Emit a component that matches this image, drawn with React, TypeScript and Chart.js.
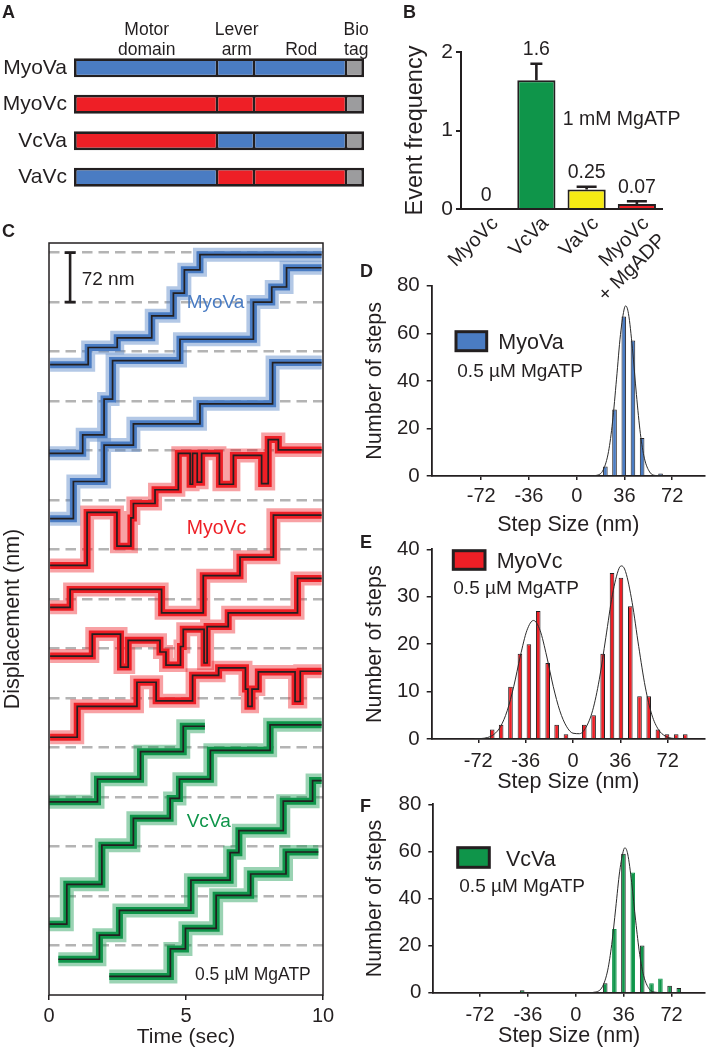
import React, { useEffect, useRef } from 'react';
import { Chart, registerables } from 'chart.js';

Chart.register(...registerables);

const FONT = '"Liberation Sans", Arial, Helvetica, sans-serif';
const INK = '#231f20';
const BLUE = '#4a7cc3';
const RED = '#ee1f26';
const GREEN = '#0f954a';
const YELLOW = '#f6eb14';
const TAG_GREY = '#9c9c9e';
const DASH_GREY = '#b4b4b4';
const BLUE_HAZE = 'rgba(74,124,195,0.42)';
const RED_HAZE = 'rgba(238,31,38,0.42)';
const GREEN_HAZE = 'rgba(15,149,74,0.42)';

Chart.defaults.font.family = FONT;
Chart.defaults.color = INK;

// ---------------- Panel A: construct diagram ----------------
const constructNames = ['MyoVa', 'MyoVc', 'VcVa', 'VaVc'];
const domainNames = [['Motor', 'domain'], ['Lever', 'arm'], ['', 'Rod'], ['Bio', 'tag']];
const domainLengths = [143, 37, 92, 18];
const motorSource = ['Va', 'Vc', 'Vc', 'Va'];
const leverSource = ['Va', 'Vc', 'Va', 'Vc'];
const rodSource = ['Va', 'Vc', 'Va', 'Vc'];

// ---------------- Panel B: event frequency ----------------
const freqCategories = [['MyoVc'], ['VcVa'], ['VaVc'], ['MyoVc', '+ MgADP']];
const freqValues = [0, 1.64, 0.25, 0.065];
const freqErrors = [0, 0.21, 0.034, 0.033];
const freqValueLabels = ['0', '1.6', '0.25', '0.07'];
const freqTicks = [0, 1, 2];

// ---------------- Panel C: stepping traces (time s, displacement nm) ----------------
const timeTicks = [0, 5, 10];
const gridLevelsNm = [72, 144, 216, 288, 360, 432, 504, 576, 648, 720, 792, 864, 936, 1008, 1080];

const myoVaT1 = [0.04, 1.43, 2.49, 3.75, 4.54, 4.94, 5.51, 9.95];
const myoVaY1 = [917, 942, 956, 988, 1021, 1055, 1077];
const myoVaT2 = [0.01, 1.23, 2.01, 2.32, 4.78, 7.46, 8.13, 8.67, 9.95];
const myoVaY2 = [788, 815, 867, 923, 954, 1008, 1030, 1058];
const myoVaT3 = [0.04, 0.89, 2.01, 3.08, 5.51, 8.16, 9.95];
const myoVaY3 = [693, 747, 800, 831, 860, 920];

const myoVcT1 = [0.04, 1.39, 2.48, 2.99, 3.08, 3.87, 4.72, 5.15, 5.24, 5.41, 5.57, 6.22, 6.73, 7.76, 8.0, 8.37, 9.95];
const myoVcY1 = [625, 702, 653, 694, 715, 735, 788, 743, 788, 746, 788, 743, 785, 744, 808, 793];
const myoVcT2 = [0.04, 0.77, 4.11, 5.63, 6.97, 8.19, 9.95];
const myoVcY2 = [564, 590, 556, 610, 637, 698];
const myoVcT3 = [0.04, 1.58, 2.61, 2.89, 4.05, 4.27, 4.8, 4.9, 5.66, 5.77, 6.54, 9.07, 9.95];
const myoVcY3 = [493, 525, 477, 516, 499, 480, 507, 532, 483, 536, 556, 606];
const myoVcT4 = [0.04, 1.03, 3.21, 3.91, 5.24, 6.19, 7.17, 7.26, 7.41, 7.64, 8.98, 9.17, 9.95];
const myoVcY4 = [375, 420, 455, 428, 465, 476, 445, 420, 445, 470, 427, 471];

const vcVaT1 = [0.01, 1.77, 3.34, 4.9, 5.69];
const vcVaY1 = [281, 314, 354, 391];
const vcVaT2 = [0.01, 0.65, 1.93, 3.08, 4.42, 4.76, 5.89, 8.07, 9.95];
const vcVaY2 = [103, 161, 218, 257, 286, 314, 356, 393];
const vcVaT3 = [0.34, 1.84, 2.57, 5.18, 6.61, 6.93, 8.55, 9.62, 9.95];
const vcVaY3 = [52, 87, 123, 167, 207, 239, 282, 312];
const vcVaT4 = [2.2, 4.43, 4.98, 6.1, 7.36, 8.65, 9.83];
const vcVaY4 = [27, 67, 97, 145, 176, 208];

// ---------------- Panels D-F: step size histograms ----------------
const stepTicks = [-72, -36, 0, 36, 72];
const countTicks80 = [0, 20, 40, 60, 80];
const countTicks40 = [0, 10, 20, 30, 40];

const myoVaBins = [21.6, 28.5, 35.5, 42.4, 49.3, 63.2];
const myoVaCounts = [4, 28, 67, 57, 16, 1];
const myoVaFitX = [10, 15, 20, 24, 27, 30, 33, 36, 37, 39, 42, 45, 48, 51, 55, 60, 65];
const myoVaFitY = [0.02, 0.28, 2.6, 10.3, 22.7, 40.7, 59.5, 70.7, 71.5, 68.3, 53.7, 34.3, 17.8, 7.5, 1.7, 0.17, 0];

const myoVcBins = [-61.4, -54.6, -47.5, -40.3, -33.5, -26.4, -19.2, -12.4, -5.3, 8.6, 15.7, 22.6, 29.7, 36.5, 43.6, 50.6, 57.6, 64.6, 71.5, 78.5, 85.4];
const myoVcCounts = [2, 3, 11, 18, 20, 27, 16, 3, 1, 3, 5, 18, 35, 34, 28, 9, 9, 2, 1, 1, 1];
const myoVcFitX = [-75, -65, -60, -55, -50, -45, -40, -35, -30, -25, -20, -15, -10, -5, 0, 5, 10, 15, 20, 25, 30, 35, 37, 40, 45, 50, 55, 60, 65, 70, 75, 80];
const myoVcFitY = [0.02, 0.31, 0.99, 2.65, 5.95, 11.1, 17.5, 22.9, 25, 22.9, 17.5, 11.1, 5.96, 2.7, 1.22, 1.12, 2.51, 6.05, 12.5, 21.4, 30.4, 35.96, 36.5, 35.3, 28.8, 19.5, 10.95, 5.1, 1.98, 0.64, 0.17, 0.04];

const vcVaBins = [-40.3, 22.1, 29.0, 35.8, 42.8, 49.9, 56.9, 63.6, 70.5, 77.4];
const vcVaCounts = [1, 4, 27, 59, 51, 20, 4, 6, 3, 2];
const vcVaFitX = [10, 15, 20, 24, 27, 30, 33, 36, 37, 39, 42, 45, 48, 51, 55, 60, 65];
const vcVaFitY = [0.02, 0.3, 2.58, 9.6, 20.5, 35.9, 51.6, 60.8, 61.5, 58.9, 46.8, 30.5, 16.3, 7.2, 1.75, 0.18, 0.01];

// ---------------- helpers ----------------
const fnt = (size: number, weight: string = 'normal') => `${weight} ${size}px ${FONT}`;

function drawText(ctx: any, str: string, x: number, y: number, f: string, color: string = INK, align: string = 'left', baseline: string = 'alphabetic') {
  ctx.save();
  ctx.font = f;
  ctx.fillStyle = color;
  ctx.textAlign = align;
  ctx.textBaseline = baseline;
  ctx.fillText(str, x, y);
  ctx.restore();
}

const baseOptions: any = {
  responsive: false,
  maintainAspectRatio: false,
  animation: false,
  devicePixelRatio: 1,
  events: [],
  plugins: { legend: { display: false }, tooltip: { enabled: false } },
};

// ---------------- Panel A ----------------
function configA(): any {
  const left = 0, top = 0;
  const src = (o: string) => (o === 'Va' ? BLUE : RED);
  const segColors = [motorSource.map(src), leverSource.map(src), rodSource.map(src), constructNames.map(() => TAG_GREY)];
  const outer = 2.7, inner = 1.35;
  return {
    type: 'bar',
    data: {
      labels: constructNames,
      datasets: domainLengths.map((len, j) => ({
        data: constructNames.map(() => len),
        backgroundColor: segColors[j],
        borderColor: INK,
        borderWidth: { top: outer, bottom: outer, left: j === 0 ? outer : inner, right: j === domainLengths.length - 1 ? outer : inner },
        borderSkipped: false,
        barThickness: 19,
        inflateAmount: 0,
      })),
    },
    options: {
      ...baseOptions,
      indexAxis: 'y',
      layout: { padding: { left: 0, right: 380 - 364, top: 49.6, bottom: 2 } },
      scales: {
        x: { stacked: true, min: 0, max: 290, display: false },
        y: {
          stacked: true,
          grid: { display: false, drawTicks: false },
          border: { display: false },
          ticks: { color: INK, font: { family: FONT, size: 21 }, padding: 7 },
          afterFit: (s: any) => { s.width = 74; },
        },
      },
    },
    plugins: [{
      id: 'aNotes',
      afterDraw(chart: any) {
        const ctx = chart.ctx;
        const xs = chart.scales.x;
        drawText(ctx, 'A', 2 - left, 18.3 - top, fnt(18, 'bold'));
        let cum = 0;
        domainLengths.forEach((len, j) => {
          const cx = xs.getPixelForValue(cum + len / 2) + 1.2;
          const [l1, l2] = domainNames[j];
          if (l1) drawText(ctx, l1, cx, 35, fnt(17.5), INK, 'center');
          if (l2) drawText(ctx, l2, cx, 55, fnt(17.5), INK, 'center');
          cum += len;
        });
      },
    }],
  };
}

// ---------------- Panel B ----------------
function configB(): any {
  const left = 370, top = 0, width = 339, height = 300;
  const capHalf = [0, 6, 10, 10];
  return {
    type: 'bar',
    data: {
      labels: freqCategories,
      datasets: [{
        data: freqValues,
        backgroundColor: [RED, GREEN, YELLOW, RED],
        borderColor: INK,
        borderWidth: 2,
        barPercentage: 0.76,
        categoryPercentage: 1,
        inflateAmount: 0,
      }],
    },
    options: {
      ...baseOptions,
      layout: { padding: { left: 0, right: left + width - 662, top: 52 - top, bottom: 0 } },
      scales: {
        x: {
          grid: { display: false, drawTicks: false },
          border: { color: INK, width: 2 },
          ticks: { color: INK, font: { family: FONT, size: 20 }, maxRotation: 45, minRotation: 45, padding: 3, labelOffset: 9, autoSkip: false },
          afterFit: (s: any) => { s.height = top + height - 209; },
        },
        y: {
          min: 0, max: 2,
          afterBuildTicks: (a: any) => { a.ticks = freqTicks.map((v) => ({ value: v })); },
          grid: { drawOnChartArea: false, tickLength: 5, color: INK, lineWidth: 2 },
          border: { color: INK, width: 2 },
          ticks: { color: INK, font: { family: FONT, size: 21 }, padding: 3 },
          title: { display: true, text: 'Event frequency', color: INK, font: { family: FONT, size: 23.5 }, padding: { top: 416 - left - 14.1, bottom: 0 } },
          afterFit: (s: any) => { s.width = 461 - left; },
        },
      },
    },
    plugins: [{
      id: 'bNotes',
      afterDatasetsDraw(chart: any) {
        const ctx = chart.ctx;
        const ys = chart.scales.y;
        const meta = chart.getDatasetMeta(0);
        meta.data.forEach((bar: any, i: number) => {
          const base = ys.getPixelForValue(freqValues[i]);
          const tip = ys.getPixelForValue(freqValues[i] + freqErrors[i]);
          if (freqErrors[i] > 0) {
            ctx.save();
            ctx.strokeStyle = INK;
            ctx.lineWidth = 2.6;
            ctx.beginPath();
            ctx.moveTo(bar.x, base);
            ctx.lineTo(bar.x, tip);
            ctx.moveTo(bar.x - capHalf[i], tip);
            ctx.lineTo(bar.x + capHalf[i], tip);
            ctx.stroke();
            ctx.restore();
          }
          drawText(ctx, freqValueLabels[i], bar.x, tip - 8.5, fnt(19.5), INK, 'center');
        });
        drawText(ctx, 'B', 403 - left, 18.3 - top, fnt(18, 'bold'));
        drawText(ctx, '1 mM MgATP', 562.7 - left, 125 - top, fnt(19.5));
      },
    }],
  };
}

// ---------------- Panel C ----------------
function stepPoints(t: number[], y: number[]) {
  const pts = [{ x: t[0], y: y[0] }];
  for (let i = 1; i < y.length; i++) {
    pts.push({ x: t[i], y: y[i - 1] });
    pts.push({ x: t[i], y: y[i] });
  }
  pts.push({ x: t[t.length - 1], y: y[y.length - 1] });
  return pts;
}

function configC(): any {
  const left = 0, top = 215, width = 370, height = 835;
  const traces = [
    { t: myoVaT1, y: myoVaY1, c: BLUE, h: BLUE_HAZE }, { t: myoVaT2, y: myoVaY2, c: BLUE, h: BLUE_HAZE }, { t: myoVaT3, y: myoVaY3, c: BLUE, h: BLUE_HAZE },
    { t: myoVcT1, y: myoVcY1, c: RED, h: RED_HAZE }, { t: myoVcT2, y: myoVcY2, c: RED, h: RED_HAZE }, { t: myoVcT3, y: myoVcY3, c: RED, h: RED_HAZE }, { t: myoVcT4, y: myoVcY4, c: RED, h: RED_HAZE },
    { t: vcVaT1, y: vcVaY1, c: GREEN, h: GREEN_HAZE }, { t: vcVaT2, y: vcVaY2, c: GREEN, h: GREEN_HAZE }, { t: vcVaT3, y: vcVaY3, c: GREEN, h: GREEN_HAZE }, { t: vcVaT4, y: vcVaY4, c: GREEN, h: GREEN_HAZE },
  ];
  const datasets: any[] = [];
  const common = { pointRadius: 0, borderJoinStyle: 'miter', borderCapStyle: 'butt', clip: 0 };
  traces.forEach((tr) => {
    const pts = stepPoints(tr.t, tr.y);
    datasets.push({ ...common, data: pts, borderColor: tr.h, borderWidth: 14, order: 3 });
    datasets.push({ ...common, data: pts, borderColor: tr.c, borderWidth: 7, order: 2 });
    datasets.push({ ...common, data: pts, borderColor: INK, borderWidth: 1.7, order: 1 });
  });
  return {
    type: 'line',
    data: { datasets },
    options: {
      ...baseOptions,
      layout: { padding: { left: 0, right: left + width - 323, top: 243 - top, bottom: 0 } },
      scales: {
        x: {
          type: 'linear', min: 0, max: 10,
          afterBuildTicks: (a: any) => { a.ticks = timeTicks.map((v) => ({ value: v })); },
          grid: { drawOnChartArea: false, tickLength: 5, color: INK, lineWidth: 1.5 },
          border: { display: false },
          ticks: { color: INK, font: { family: FONT, size: 20 }, padding: 4, maxRotation: 0, callback: (v: any) => String(v) },
          title: { display: true, text: 'Time (sec)', color: INK, font: { family: FONT, size: 21 }, padding: { top: 0, bottom: 0.4 } },
          afterFit: (s: any) => { s.height = top + height - 995; },
        },
        y: {
          type: 'linear', min: 0, max: 1094,
          afterBuildTicks: (a: any) => { a.ticks = [0, ...gridLevelsNm].map((v) => ({ value: v })); },
          grid: { color: (c: any) => (c.tick && c.tick.value === 0 ? 'rgba(0,0,0,0)' : DASH_GREY), lineWidth: 2.6, drawTicks: false },
          border: { display: false, dash: [10.5, 6] },
          ticks: { display: false },
          title: { display: true, text: 'Displacement (nm)', color: INK, font: { family: FONT, size: 21.5 }, padding: { top: 0, bottom: 0 } },
          afterFit: (s: any) => { s.width = 49 - left; },
        },
      },
    },
    plugins: [{
      id: 'cNotes',
      afterDraw(chart: any) {
        const ctx = chart.ctx;
        const a = chart.chartArea;
        const xs = chart.scales.x, ys = chart.scales.y;
        ctx.save();
        ctx.strokeStyle = INK;
        ctx.lineWidth = 1.5;
        ctx.strokeRect(a.left, a.top, a.right - a.left, a.bottom - a.top);
        // 72 nm scale bar
        const bx = xs.getPixelForValue(0.77);
        const b0 = ys.getPixelForValue(1008), b1 = ys.getPixelForValue(1080);
        ctx.lineWidth = 2.6;
        ctx.beginPath();
        ctx.moveTo(bx, b0); ctx.lineTo(bx, b1);
        ctx.moveTo(bx - 5.5, b0); ctx.lineTo(bx + 5.5, b0);
        ctx.moveTo(bx - 5.5, b1); ctx.lineTo(bx + 5.5, b1);
        ctx.stroke();
        ctx.restore();
        drawText(ctx, 'C', 2 - left, 237 - top, fnt(18, 'bold'));
        drawText(ctx, '72 nm', 81.7 - left, 285 - top, fnt(19));
        drawText(ctx, 'MyoVa', 186.7 - left, 307.7 - top, fnt(19), BLUE);
        drawText(ctx, 'MyoVc', 186.7 - left, 534.3 - top, fnt(19.5), RED);
        drawText(ctx, 'VcVa', 186.7 - left, 826.7 - top, fnt(19), GREEN);
        drawText(ctx, '0.5 µM MgATP', 195 - left, 980 - top, fnt(17.5));
      },
    }],
  };
}

// ---------------- Panels D-F ----------------
const histPanels: any[] = [
  {
    letter: 'D', letterX: 360, letterY: 277, left: 355, top: 262, width: 354, height: 290,
    chart: { left: 431.7, right: 705, top: 285.7, bottom: 476 }, xMin: -109.3, xMax: 96.7, yMax: 80, yTicks: countTicks80,
    tickLabelY: 496.7, titleY: 525, yTitleX: 375,
    bins: myoVaBins, counts: myoVaCounts, fitX: myoVaFitX, fitY: myoVaFitY, color: BLUE, edges: INK,
    name: 'MyoVa', swatch: { x: 456, y: 331.7, w: 30.7, h: 19 }, nameX: 498.3, nameY: 349.3, subX: 457.3, subY: 376.7,
  },
  {
    letter: 'E', letterX: 360, letterY: 548, left: 355, top: 530, width: 354, height: 265,
    chart: { left: 431.7, right: 705, top: 549, bottom: 739 }, xMin: -107.4, xMax: 100.4, yMax: 40, yTicks: countTicks40,
    tickLabelY: 761.7, titleY: 782, yTitleX: 375,
    bins: myoVcBins, counts: myoVcCounts, fitX: myoVcFitX, fitY: myoVcFitY, color: RED, edges: INK,
    name: 'MyoVc', swatch: { x: 453.3, y: 550.7, w: 31.7, h: 18.6 }, nameX: 496.7, nameY: 567.7, subX: 453.3, subY: 594.3,
  },
  {
    letter: 'F', letterX: 360, letterY: 812, left: 355, top: 785, width: 354, height: 265,
    chart: { left: 433.3, right: 705, top: 803.3, bottom: 992.7 }, xMin: -107.1, xMax: 97.1, yMax: 80, yTicks: countTicks80,
    tickLabelY: 1015, titleY: 1036.5, yTitleX: 375,
    bins: vcVaBins, counts: vcVaCounts, fitX: vcVaFitX, fitY: vcVaFitY, color: GREEN,
    edges: [INK, INK, GREEN, INK, GREEN, INK, GREEN, GREEN, INK, INK],
    name: 'VcVa', swatch: { x: 457.7, y: 847.7, w: 31.6, h: 19.6 }, nameX: 506, nameY: 866, subX: 459.3, subY: 891.7,
  },
];

function configHist(p: any): any {
  const canvasBottom = p.top + p.height;
  const tickSize = 20, titleSize = 21.5;
  const tickLH = tickSize * 1.2, titleLH = titleSize * 1.2;
  return {
    type: 'bar',
    data: {
      datasets: [
        { type: 'line', data: p.fitX.map((x: number, i: number) => ({ x, y: p.fitY[i] })), borderColor: '#2b2b2b', borderWidth: 1, pointRadius: 0, cubicInterpolationMode: 'monotone', order: 0, clip: 0 },
        { type: 'bar', data: p.bins.map((x: number, i: number) => ({ x, y: p.counts[i] })), backgroundColor: p.color, borderColor: p.edges, borderWidth: 1, barThickness: 4.6, order: 1, inflateAmount: 0 },
      ],
    },
    options: {
      ...baseOptions,
      layout: { padding: { left: 0, right: p.left + p.width - p.chart.right, top: p.chart.top - p.top, bottom: 0 } },
      scales: {
        x: {
          type: 'linear', offset: false, min: p.xMin, max: p.xMax,
          afterBuildTicks: (a: any) => { a.ticks = stepTicks.map((v) => ({ value: v })); },
          grid: { drawOnChartArea: false, offset: false, tickLength: 4, color: INK, lineWidth: 1.5 },
          border: { color: INK, width: 1.8 },
          ticks: { color: INK, font: { family: FONT, size: tickSize }, padding: p.tickLabelY - p.chart.bottom - 4 - tickLH / 2, maxRotation: 0, callback: (v: any) => String(v) },
          title: { display: true, text: 'Step Size (nm)', color: INK, font: { family: FONT, size: titleSize }, padding: { top: 0, bottom: canvasBottom - p.titleY - titleLH / 2 } },
          afterFit: (s: any) => { s.height = canvasBottom - p.chart.bottom; },
        },
        y: {
          min: 0, max: p.yMax,
          afterBuildTicks: (a: any) => { a.ticks = p.yTicks.map((v: number) => ({ value: v })); },
          grid: { drawOnChartArea: false, tickLength: 5, color: INK, lineWidth: 1.5 },
          border: { color: INK, width: 1.8 },
          ticks: { color: INK, font: { family: FONT, size: 20.5 }, padding: 7 },
          title: { display: true, text: 'Number of steps', color: INK, font: { family: FONT, size: titleSize }, padding: { top: p.yTitleX - p.left - titleLH / 2, bottom: 0 } },
          afterFit: (s: any) => { s.width = p.chart.left - p.left; },
        },
      },
    },
    plugins: [{
      id: 'histNotes',
      afterDraw(chart: any) {
        const ctx = chart.ctx;
        const X = (x: number) => x - p.left;
        const Y = (y: number) => y - p.top;
        drawText(ctx, p.letter, X(p.letterX), Y(p.letterY), fnt(18, 'bold'));
        ctx.save();
        ctx.fillStyle = p.color;
        ctx.fillRect(X(p.swatch.x), Y(p.swatch.y), p.swatch.w, p.swatch.h);
        ctx.lineWidth = 3;
        ctx.strokeStyle = INK;
        ctx.strokeRect(X(p.swatch.x), Y(p.swatch.y), p.swatch.w, p.swatch.h);
        ctx.restore();
        drawText(ctx, p.name, X(p.nameX), Y(p.nameY), fnt(21.5));
        drawText(ctx, '0.5 µM MgATP', X(p.subX), Y(p.subY), fnt(19));
      },
    }],
  };
}

// ---------------- components ----------------
function ChartBox(props: { left: number; top: number; width: number; height: number; make: () => any }) {
  const ref = useRef<HTMLCanvasElement | null>(null);
  useEffect(() => {
    const chart = new Chart(ref.current as HTMLCanvasElement, props.make());
    return () => chart.destroy();
  }, []);
  return (
    <canvas
      ref={ref}
      width={props.width}
      height={props.height}
      style={{ position: 'absolute', left: props.left, top: props.top, width: props.width, height: props.height }}
    />
  );
}

export default function App() {
  return (
    <div style={{ position: 'absolute', left: 0, top: 0, width: 709, height: 1050, background: '#ffffff', overflow: 'hidden' }}>
      <ChartBox left={0} top={0} width={380} height={215} make={configA} />
      <ChartBox left={0} top={215} width={370} height={835} make={configC} />
      {histPanels.map((p) => (
        <ChartBox key={p.letter} left={p.left} top={p.top} width={p.width} height={p.height} make={() => configHist(p)} />
      ))}
      <ChartBox left={370} top={0} width={339} height={300} make={configB} />
    </div>
  );
}
